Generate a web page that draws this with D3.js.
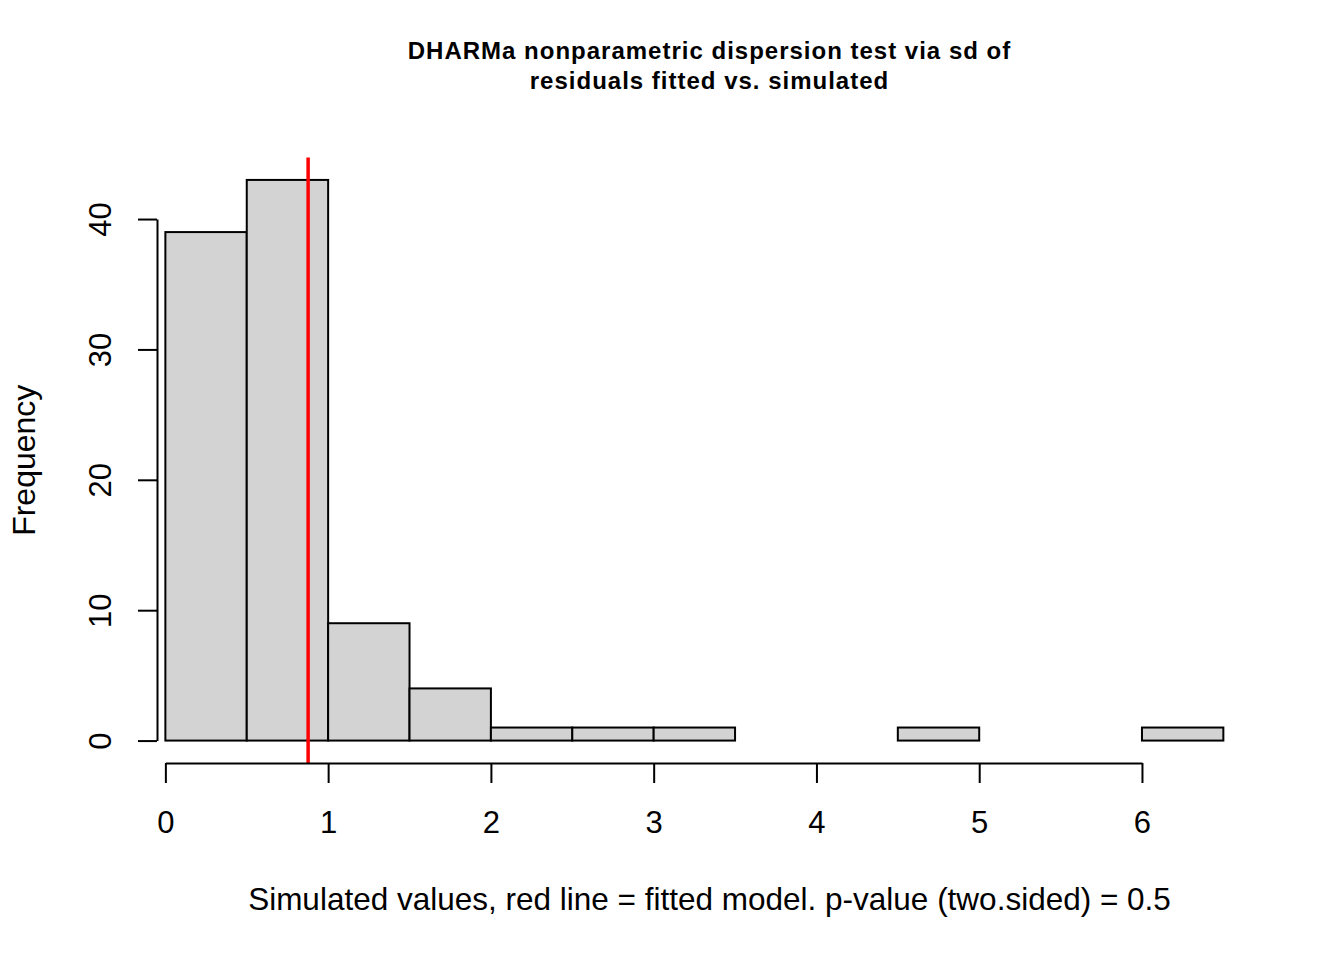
<!DOCTYPE html>
<html>
<head>
<meta charset="utf-8">
<script src="https://cdn.jsdelivr.net/npm/d3@7"></script>
<style>
  body { margin: 0; background: #fff; }
  svg text { font-family: "Liberation Sans", Arial, sans-serif; fill: #000; }
</style>
</head>
<body>
<div id="chart"></div>
<script>
// histogram of simulated values
const breaks = [0, 0.5, 1, 1.5, 2, 2.5, 3, 3.5, 4, 4.5, 5, 5.5, 6, 6.5]
const counts = [39, 43, 9, 4, 1, 1, 1, 0, 0, 1, 0, 0, 1]
const observed = 0.877          // red line = fitted model
const xTicks = [0, 1, 2, 3, 4, 5, 6]
const yTicks = [0, 10, 20, 30, 40]
const titleLines = ["DHARMa nonparametric dispersion test via sd of", "residuals fitted vs. simulated"]
const xLabel = "Simulated values, red line = fitted model. p-value (two.sided) = 0.5"
const yLabel = "Frequency"

const width = 1344
const height = 960

// Plotbereich (R usr-Koordinaten, 4% erweitert)
const plotL = 157, plotR = 1262, plotT = 157.5, plotB = 763
const xlim = [0.20, 6.486]
const xpad = (xlim[1] - xlim[0]) * 0.04
const ymax = d3.max(counts)
const ypad = ymax * 0.04

const x = d3.scaleLinear().domain([xlim[0] - xpad, xlim[1] + xpad]).range([plotL, plotR])
const y = d3.scaleLinear().domain([-ypad, ymax + ypad]).range([plotB, plotT])

const bins = counts.map((c, i) => ({ x0: breaks[i], x1: breaks[i + 1], n: c }))

const svg = d3.select("#chart")
  .append("svg")
  .attr("width", width)
  .attr("height", height)

// Balken
svg.append("g")
  .selectAll("rect")
  .data(bins)
  .enter()
  .append("rect")
  .attr("x", d => x(d.x0))
  .attr("y", d => y(d.n))
  .attr("width", d => x(d.x1) - x(d.x0))
  .attr("height", d => y(0) - y(d.n))
  .style("fill", "#d3d3d3")
  .style("stroke", "#000")
  .style("stroke-width", 2)

// Rote Linie
svg.append("line")
  .attr("x1", x(observed))
  .attr("x2", x(observed))
  .attr("y1", plotT)
  .attr("y2", plotB)
  .style("stroke", "#ff0000")
  .style("stroke-width", 3.5)

// x-Achse (Linie nur von erstem bis letztem Tick)
const xAxisScale = x.copy().domain([xTicks[0], xTicks[xTicks.length - 1]])
  .range([x(xTicks[0]), x(xTicks[xTicks.length - 1])])
const gx = svg.append("g")
  .attr("transform", "translate(0," + plotB + ")")
  .call(d3.axisBottom(xAxisScale).tickValues(xTicks).tickSize(20).tickSizeOuter(0).tickFormat(d3.format("d")))
gx.select(".domain").style("stroke-width", 2)
gx.selectAll(".tick line").style("stroke-width", 2)
gx.selectAll(".tick text")
  .attr("y", 70)
  .attr("dy", 0)
  .style("font-size", "31px")

// y-Achse
const yAxisScale = y.copy().domain([yTicks[0], yTicks[yTicks.length - 1]])
  .range([y(yTicks[0]), y(yTicks[yTicks.length - 1])])
const gy = svg.append("g")
  .attr("transform", "translate(" + plotL + ",0)")
  .call(d3.axisLeft(yAxisScale).tickValues(yTicks).tickSize(19).tickSizeOuter(0).tickFormat(d3.format("d")))
gy.select(".domain").style("stroke-width", 2)
gy.selectAll(".tick line").style("stroke-width", 2)
gy.selectAll(".tick text")
  .attr("x", null)
  .attr("dy", 0)
  .attr("transform", "translate(-46,0) rotate(-90)")
  .style("text-anchor", "middle")
  .style("font-size", "31px")

svg.selectAll(".domain, .tick line").style("stroke", "#000")

// Titel
const cx = (plotL + plotR) / 2
svg.append("g")
  .selectAll("text")
  .data(titleLines)
  .enter()
  .append("text")
  .attr("x", cx)
  .attr("y", (d, i) => 59 + i * 30)
  .style("text-anchor", "middle")
  .style("font-weight", "bold")
  .style("font-size", "24px")
  .style("letter-spacing", "1px")
  .text(d => d)

// Achsenbeschriftung
svg.append("text")
  .attr("x", cx)
  .attr("y", 910)
  .style("text-anchor", "middle")
  .style("font-size", "31.5px")
  .text(xLabel)

svg.append("text")
  .attr("transform", "translate(35," + ((plotT + plotB) / 2) + ") rotate(-90)")
  .style("text-anchor", "middle")
  .style("font-size", "32px")
  .text(yLabel)
</script>
</body>
</html>
